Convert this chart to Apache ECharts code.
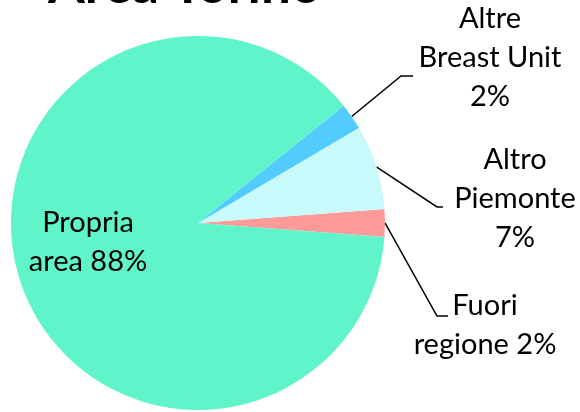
<!DOCTYPE html>
<html>
<head>
<meta charset="utf-8">
<script src="https://cdn.jsdelivr.net/npm/echarts@6/dist/echarts.min.js"></script>
<style>
    html, body { margin: 0; padding: 0; background: #fff; }
</style>
</head>
<body>
<div style="width:580px;height:412px;" id="area_torino_con"></div>
<script>
// dati (quote in %), ordine antiorario partendo da "Fuori regione"
const names = ['Fuori regione', 'Altro Piemonte', 'Altre Breast Unit', 'Propria area'];
const values = [2.4, 7.3, 2.3, 88.1];
const labelTexts = ['Fuori\nregione {p}', 'Altro\nPiemonte\n{p}', 'Altre\nBreast Unit\n{p}', 'Propria\narea {p}'];
const colors = ['#FF9A9A', '#C8FAFC', '#52CCFF', '#60F4CA'];

// posizione etichette e linee guida
const labelSpots = [
    {x: 485, y: 325, elbow: [437, 316], end: [448, 316]},
    {x: 515, y: 199, elbow: [437, 207], end: [443, 207]},
    {x: 490, y: 58, elbow: [401, 76], end: [413, 76]},
    {x: 88, y: 242}
];

const total = values.reduce((a, b) => a + b, 0);

const option = {
    animation: false,
    title: {
        text: 'Area Torino',
        left: 43,
        top: -46,
        textStyle: {
            fontFamily: 'Lato',
            fontWeight: 'bold',
            fontSize: 53,
            color: '#000'
        }
    },
    series: [
        {
            type: 'pie',
            center: [198, 223],
            radius: 187,
            startAngle: -4.3,
            clockwise: false,
            avoidLabelOverlap: false,
            label: {
                fontFamily: 'Lato',
                fontSize: 29,
                lineHeight: 39,
                color: '#000',
                formatter: (p) => labelTexts[p.dataIndex].replace('{p}', Math.round(p.value / total * 100) + '%')
            },
            labelLine: {
                lineStyle: {color: '#000', width: 1.5}
            },
            labelLayout: function (params) {
                const s = labelSpots[params.dataIndex];
                const out = {x: s.x, y: s.y, align: 'center', verticalAlign: 'middle'};
                if (s.elbow && params.labelLinePoints) {
                    out.labelLinePoints = [params.labelLinePoints[0], s.elbow, s.end];
                }
                return out;
            },
            data: names.map((n, i) => {
                const item = {name: n, value: values[i], itemStyle: {color: colors[i]}};
                if (i === 3) {
                    item.label = {position: 'inside'};
                    item.labelLine = {show: false};
                }
                return item;
            })
        }
    ]
};

const areaChart = echarts.init(document.getElementById('area_torino_con'));
areaChart.setOption(option);
window.addEventListener('resize', function () {
    areaChart.resize();
});
</script>
</body>
</html>
